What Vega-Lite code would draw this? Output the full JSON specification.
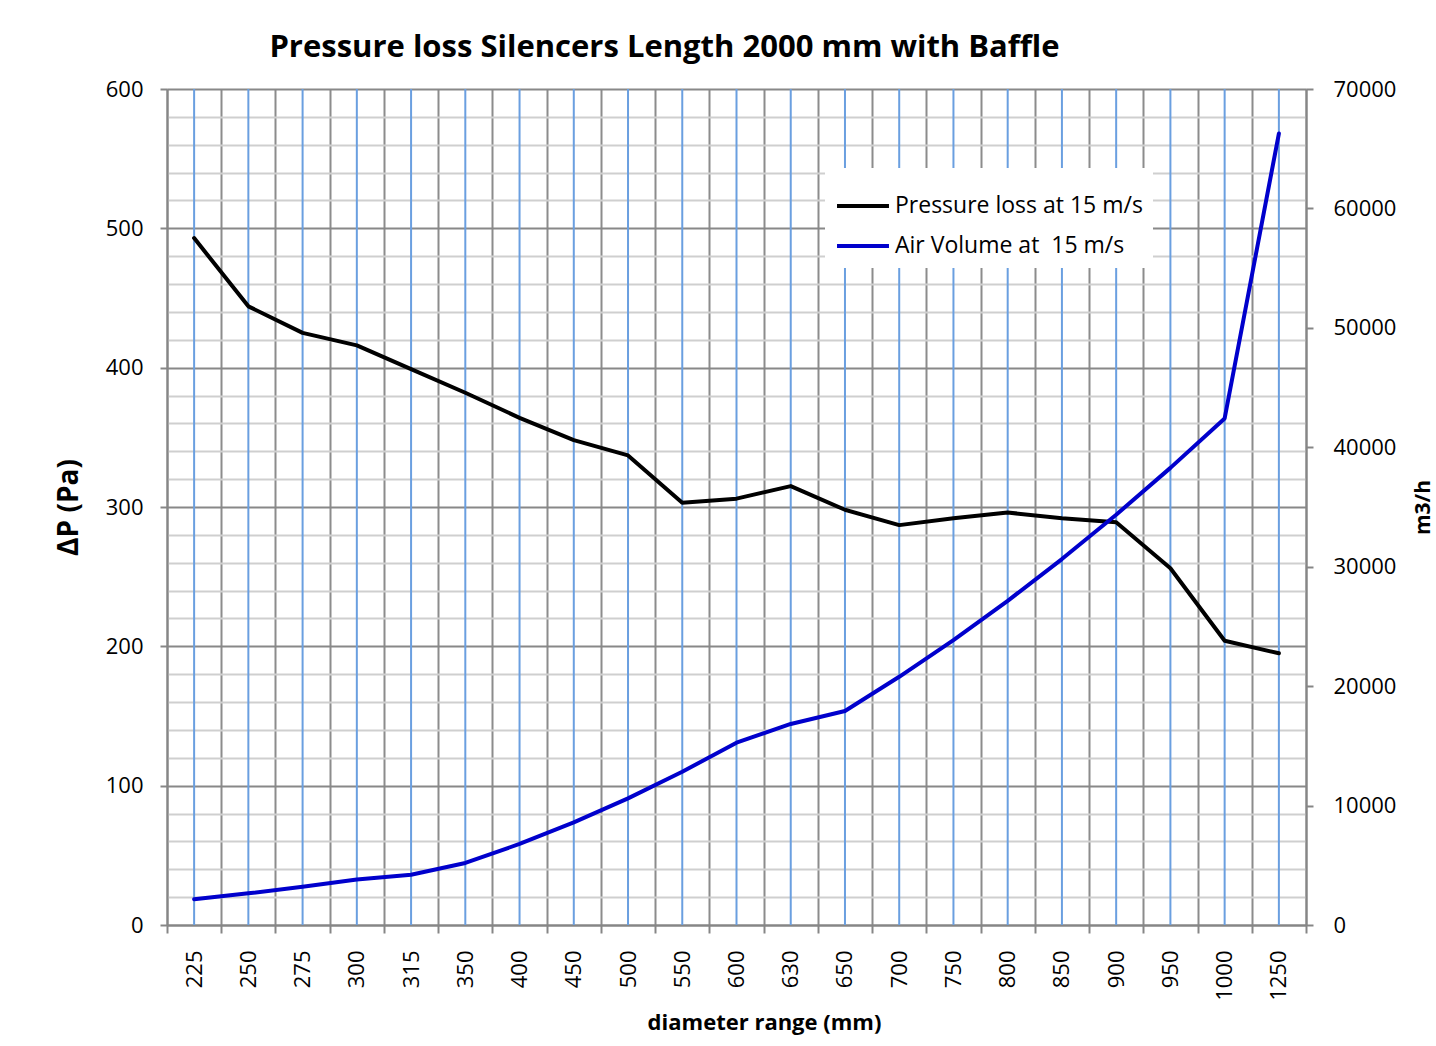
{
  "$schema": "https://vega.github.io/schema/vega-lite/v6.json",
  "width": 1139,
  "height": 836,
  "autosize": {"type": "none"},
  "padding": {"left": 167, "top": 89, "right": 130, "bottom": 121},
  "background": "white",
  "title": {
    "text": "Pressure loss Silencers Length 2000 mm with Baffle",
    "font": "Open Sans",
    "fontSize": 31,
    "fontWeight": "bold",
    "color": "#000000",
    "anchor": "middle",
    "frame": "group",
    "dx": -72,
    "offset": 14
  },
  "config": {
    "font": "Open Sans",
    "view": {"stroke": null},
    "axis": {
      "labelFont": "Open Sans",
      "labelFontSize": 22,
      "labelColor": "#000000",
      "titleFont": "Open Sans",
      "titleFontWeight": "bold",
      "titleColor": "#000000",
      "domainColor": "#868686",
      "domainWidth": 2,
      "tickColor": "#868686",
      "tickWidth": 2,
      "tickSize": 7
    },
    "legend": {
      "labelFont": "Open Sans"
    }
  },
  "data": {
    "values": [
      {"d": "225", "p": 493, "q": 2147},
      {"d": "250", "p": 444, "q": 2651},
      {"d": "275", "p": 425, "q": 3207},
      {"d": "300", "p": 416, "q": 3817},
      {"d": "315", "p": 399, "q": 4208},
      {"d": "350", "p": 382, "q": 5195},
      {"d": "400", "p": 364, "q": 6786},
      {"d": "450", "p": 348, "q": 8588},
      {"d": "500", "p": 337, "q": 10603},
      {"d": "550", "p": 303, "q": 12829},
      {"d": "600", "p": 306, "q": 15268},
      {"d": "630", "p": 315, "q": 16833},
      {"d": "650", "p": 298, "q": 17918},
      {"d": "700", "p": 287, "q": 20782},
      {"d": "750", "p": 292, "q": 23856},
      {"d": "800", "p": 296, "q": 27143},
      {"d": "850", "p": 292, "q": 30642},
      {"d": "900", "p": 289, "q": 34353},
      {"d": "950", "p": 256, "q": 38277},
      {"d": "1000", "p": 204, "q": 42412},
      {"d": "1250", "p": 195, "q": 66268}
    ]
  },
  "encoding": {
    "x": {
      "field": "d",
      "type": "nominal",
      "sort": null,
      "scale": {"type": "band", "paddingInner": 0, "paddingOuter": 0},
      "axis": {
        "title": "diameter range (mm)",
        "titleFontSize": 22,
        "titlePadding": 12,
        "titleX": 597,
        "labelAngle": -90,
        "labelPadding": 17,
        "tickSize": 8,
        "tickBand": "extent",
        "grid": true,
        "gridColor": "#8c8c8c",
        "gridWidth": 2,
        "zindex": 0
      }
    }
  },
  "layer": [
    {
      "mark": {"type": "rule", "color": "#6a9fe0", "strokeWidth": 2},
      "encoding": {}
    },
    {
      "mark": {"type": "line", "strokeWidth": 4, "strokeJoin": "round", "strokeCap": "round"},
      "encoding": {
        "y": {
          "field": "p",
          "type": "quantitative",
          "scale": {"domain": [0, 600], "nice": false},
          "axis": {
            "title": "ΔP  (Pa)",
            "titleFontSize": 28,
            "titlePadding": 22,
            "values": [0,20,40,60,80,100,120,140,160,180,200,220,240,260,280,300,320,340,360,380,400,420,440,460,480,500,520,540,560,580,600],
            "labelExpr": "datum.value % 100 === 0 ? datum.value : ''",
            "labelPadding": 17,
            "grid": true,
            "gridWidth": 2,
            "gridColor": {"condition": {"test": "datum.value % 100 === 0", "value": "#888888"}, "value": "#cfcfcf"},
            "tickOpacity": {"condition": {"test": "datum.value % 100 === 0", "value": 1}, "value": 0},
            "zindex": 0
          }
        },
        "color": {
          "datum": "Pressure loss at 15 m/s",
          "type": "nominal",
          "scale": {
            "domain": ["Pressure loss at 15 m/s", "Air Volume at \u00a015 m/s"],
            "range": ["#000000", "#0000cc"]
          },
          "legend": {
            "title": null,
            "orient": "none",
            "legendX": 658,
            "legendY": 79,
            "fillColor": "#ffffff",
            "padding": 10,
            "symbolType": "stroke",
            "symbolSize": 2700,
            "symbolStrokeWidth": 4,
            "labelFontSize": 23,
            "labelLimit": 500,
            "labelColor": "#000000",
            "labelOffset": 4,
            "rowPadding": 0
          }
        }
      }
    },
    {
      "mark": {"type": "line", "strokeWidth": 4, "strokeJoin": "round", "strokeCap": "round"},
      "encoding": {
        "y": {
          "field": "q",
          "type": "quantitative",
          "scale": {"domain": [0, 70000], "nice": false},
          "axis": {
            "orient": "right",
            "title": "m3/h",
            "titleFontSize": 21,
            "titleAngle": 270,
            "titlePadding": 38,
            "values": [0,10000,20000,30000,40000,50000,60000,70000],
            "format": "d",
            "labelPadding": 20,
            "grid": false
          }
        },
        "color": {"datum": "Air Volume at \u00a015 m/s", "type": "nominal"}
      }
    }
  ],
  "resolve": {"scale": {"y": "independent"}, "axis": {"y": "independent"}}
}
